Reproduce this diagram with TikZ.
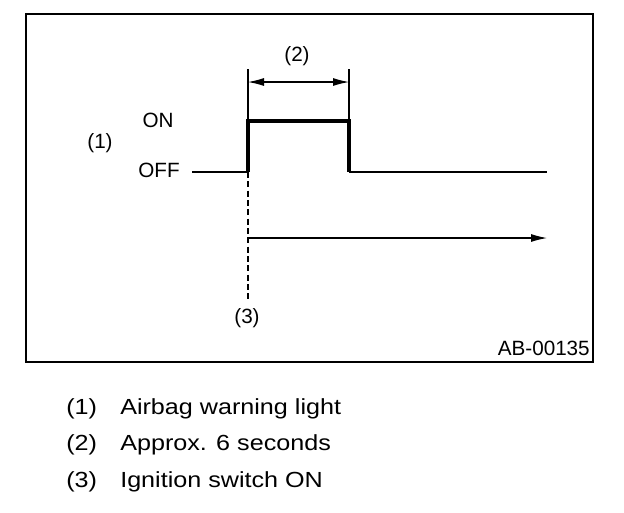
\documentclass[tikz,border=0pt]{standalone}
\usepackage{fontspec}
\setmainfont{Liberation Sans}
\newfontfamily\legendfont[FakeStretch=1.15]{Liberation Sans}
\usetikzlibrary{arrows.meta}

\begin{document}
\begin{tikzpicture}[x=0.75pt, y=-0.75pt,
  lbl/.style={font=\fontsize{15.5}{18}\selectfont, inner sep=0pt, anchor=base},
  item/.style={font=\legendfont\fontsize{16.4}{19}\selectfont, inner sep=0pt, anchor=base west},
  offline/.style={line width=1.5pt},
  pulse/.style={line width=2.5pt},
  extline/.style={line width=0.8pt},
  dimarr/.style={{Latex[length=12pt, width=6pt]}-{Latex[length=12pt, width=6pt]}, line width=0.8pt},
  timearr/.style={-{Latex[length=12pt, width=6pt]}, line width=0.8pt}
]
\useasboundingbox (0,0) rectangle (624,512);

\draw[line width=1.5pt] (26,14) rectangle (593,362);

% signal levels
\node[lbl] (on)   at (158,127) {ON};
\node[lbl] (off)  at (159,177) {OFF};
\node[lbl] (sig)  at (100,148) {(1)};

\coordinate (start)   at (192,172);
\coordinate (riseLo)  at (248,172);
\coordinate (riseHi)  at (248,121);
\coordinate (fallHi)  at (349,121);
\coordinate (fallLo)  at (349,172);
\coordinate (finish)  at (547,172);

\draw[offline] (start) -- (riseLo);
\draw[pulse] (riseLo) -- (riseHi) -- (fallHi) -- (fallLo);
\draw[offline] (fallLo) -- (finish);

% duration
\coordinate (extL) at (248,69);
\coordinate (extR) at (349,69);
\coordinate (dimL) at (248,82);
\coordinate (dimR) at (349,82);
\draw[extline] (extL) -- (riseHi);
\draw[extline] (extR) -- (fallHi);
\draw[dimarr] (dimL) -- (dimR);
\node[lbl] (dur) at (297,61) {(2)};

% ignition
\coordinate (dashEnd) at (248,302);
\coordinate (timeL)   at (248,238);
\coordinate (timeR)   at (547,238);
\draw[extline, dash pattern=on 4.5pt off 2.5pt] (riseLo) -- (dashEnd);
\draw[timearr] (timeL) -- (timeR);
\node[lbl] (ign) at (247,323) {(3)};

\node[lbl, anchor=base east] (code) at (590,355) {AB-00135};

% legend
\node[item] (k1) at (66,414) {(1)};
\node[item] (t1) at (120,414) {Airbag warning light};
\node[item] (k2) at (66,450) {(2)};
\node[item] (t2) at (120,450) {Approx. 6 seconds};
\node[item] (k3) at (66,487) {(3)};
\node[item] (t3) at (120,487) {Ignition switch ON};

\end{tikzpicture}
\end{document}
